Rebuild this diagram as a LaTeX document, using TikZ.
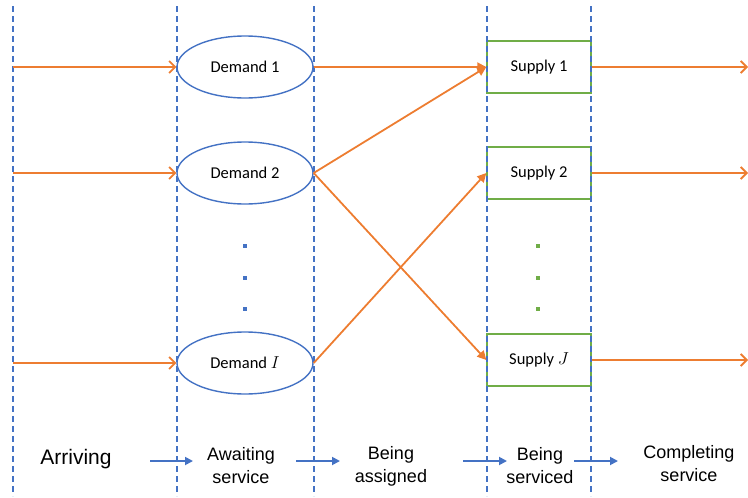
\documentclass[tikz,border=0pt]{standalone}
\usepackage{fontspec}
\setmainfont{Carlito}
\newfontfamily\stagefont{Liberation Sans}
\usetikzlibrary{shapes.geometric,arrows.meta}
\definecolor{flowor}{HTML}{ED7D31}
\definecolor{laneblue}{HTML}{4472C4}
\definecolor{boxgreen}{HTML}{70AD47}

\begin{document}
\begin{tikzpicture}[x=1pt, y=-1pt,
  demand/.style={ellipse, draw=laneblue, line width=1.4pt, fill=white, minimum width=136pt, minimum height=62pt, inner sep=0pt, font=\fontsize{16.5}{18}\selectfont},
  supply/.style={rectangle, draw=boxgreen, line width=1.4pt, fill=white, minimum width=104pt, minimum height=52pt, inner sep=0pt, font=\fontsize{16.5}{18}\selectfont},
  lane/.style={laneblue, line width=1.4pt, dash pattern=on 6pt off 4pt},
  flow/.style={flowor, line width=1.8pt, -{Straight Barb[length=6pt,width=12pt,line width=1.8pt]}},
  assign/.style={flowor, line width=1.8pt, -{Triangle[length=9pt,width=9pt]}},
  stage/.style={align=center, font=\stagefont\fontsize{18}{23}\selectfont},
  stagearrow/.style={laneblue, line width=1.8pt, -{Triangle[length=8pt,width=8pt]}},
  dot/.style={minimum size=3.5pt, inner sep=0pt}]
  \useasboundingbox (0,0) rectangle (748,498);
  % Nodes
  \node[demand] (d1) at (245,67) {Demand 1};
  \node[demand] (d2) at (245,173) {Demand 2};
  \node[demand] (dI) at (245,363) {Demand $I$};
  \node[supply] (s1) at (539,67) {Supply 1};
  \node[supply] (s2) at (539,173) {Supply 2};
  \node[supply] (sJ) at (539,360) {Supply $J$};
  % Dots
  \foreach \y [count=\i] in {246,278,309} {
    \node[dot, fill=laneblue] (bd\i) at (245,\y) {};
    \node[dot, fill=boxgreen] (gd\i) at (538,\y) {};
  }
  % Lanes
  \foreach \x in {13,177,314,487,591}
    \draw[lane] (\x,6) -- (\x,496);
  % Free ends
  \coordinate (a1) at (13,67);
  \coordinate (a2) at (13,173);
  \coordinate (a3) at (13,363);
  \coordinate (c1) at (748,67);
  \coordinate (c2) at (748,173);
  \coordinate (c3) at (748,360);
  % Flows
  \draw[flow] (a1) -- (d1.west);
  \draw[flow] (a2) -- (d2.west);
  \draw[flow] (a3) -- (dI.west);
  \draw[assign] (d1.east) -- (s1.west);
  \draw[assign] (d2.east) -- (s1.west);
  \draw[assign] (d2.east) -- (sJ.west);
  \draw[assign] (dI.east) -- (s2.west);
  \draw[flow] (s1.east) -- (c1);
  \draw[flow] (s2.east) -- (c2);
  \draw[flow] (sJ.east) -- (c3);
  % Stages
  \node[stage, font=\stagefont\fontsize{21}{23}\selectfont] (arr) at (76,459) {Arriving};
  \node[stage] (wait) at (241,466) {Awaiting\\service};
  \node[stage] (asgn) at (391,466) {Being\\assigned};
  \node[stage] (serv) at (540,466) {Being\\serviced};
  \node[stage] (comp) at (689,464) {Completing\\service};
  \draw[stagearrow] (150,461) -- (193,461);
  \draw[stagearrow] (296,461) -- (340,461);
  \draw[stagearrow] (463,461) -- (507,461);
  \draw[stagearrow] (574,461) -- (618,461);
\end{tikzpicture}
\end{document}
